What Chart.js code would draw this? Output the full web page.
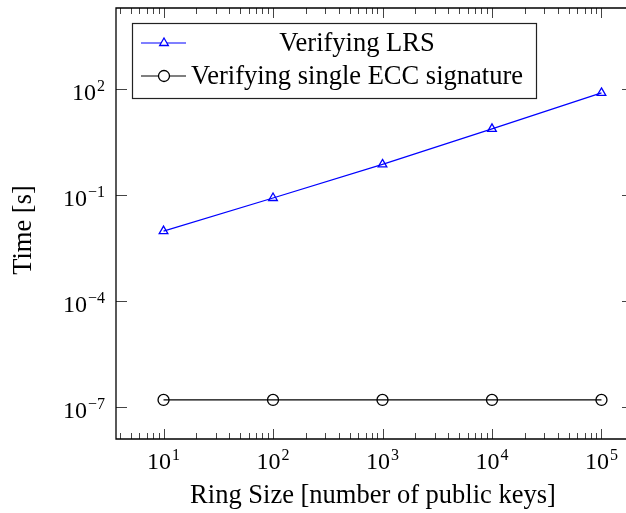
<!DOCTYPE html>
<html>
<head>
<meta charset="utf-8">
<script src="https://cdn.jsdelivr.net/npm/chart.js@4/dist/chart.umd.min.js"></script>
<style>
  html, body { margin: 0; padding: 0; background: #fff; }
  #wrap { width: 626px; height: 513px; }
</style>
</head>
<body>
<div id="wrap"><canvas id="chart" width="626" height="513"></canvas></div>
<script>
const ringSizes = [10, 100, 1000, 10000, 100000];
const lrsTimes = [0.0095, 0.082, 0.73, 7.4, 77];
const eccTimes = [1.58e-7, 1.58e-7, 1.58e-7, 1.58e-7, 1.58e-7];
const xTickExps = [1, 2, 3, 4, 5];
const yTickExps = [2, -1, -4, -7];
const seriesLabels = ['Verifying LRS', 'Verifying single ECC signature'];
const xTitle = 'Ring Size [number of public keys]';
const yTitle = 'Time [s]';

const SERIF = '"Liberation Serif", "DejaVu Serif", serif';

function drawPow(ctx, exp, x, y, align) {
  // 10^exp with a raised exponent, y is the baseline
  const base = '10';
  const e = String(exp).replace('-', '\u2212');
  ctx.font = '24px ' + SERIF;
  const wb = ctx.measureText(base).width;
  ctx.font = '16px ' + SERIF;
  const we = ctx.measureText(e).width;
  const w = wb + we + 1;
  let x0 = x;
  if (align === 'center') x0 = x - w / 2;
  else if (align === 'right') x0 = x - w;
  ctx.textAlign = 'left';
  ctx.textBaseline = 'alphabetic';
  ctx.fillStyle = '#000';
  ctx.font = '24px ' + SERIF;
  ctx.fillText(base, x0, y);
  ctx.font = '16px ' + SERIF;
  ctx.fillText(e, x0 + wb + 1, y - 9);
}

const axisDecor = {
  id: 'axisDecor',
  afterDatasetsDraw(chart) {
    const { ctx, chartArea: a, scales: { x, y } } = chart;
    ctx.save();
    // ticks
    ctx.strokeStyle = '#444';
    ctx.lineWidth = 1;
    ctx.beginPath();
    for (let d = 0; d <= 5; d++) {
      for (let k = 1; k <= 9; k++) {
        const v = k * Math.pow(10, d);
        if (v < x.min || v > x.max) continue;
        const px = Math.round(x.getPixelForValue(v)) + 0.5;
        const len = k === 1 ? 10 : 6;
        ctx.moveTo(px, a.bottom); ctx.lineTo(px, a.bottom - len);
        ctx.moveTo(px, a.top); ctx.lineTo(px, a.top + len);
      }
    }
    for (const ex of yTickExps) {
      const py = Math.round(y.getPixelForValue(Math.pow(10, ex))) + 0.5;
      ctx.moveTo(a.left, py); ctx.lineTo(a.left + 11, py);
      // right frame sits just past the picture edge, only the tick ends show
      ctx.moveTo(a.right, py); ctx.lineTo(a.right - 4, py);
    }
    ctx.stroke();
    // frame (left, top, bottom)
    ctx.strokeStyle = '#000';
    ctx.lineWidth = 1.3;
    ctx.beginPath();
    ctx.moveTo(a.right, a.top); ctx.lineTo(a.left, a.top);
    ctx.lineTo(a.left, a.bottom); ctx.lineTo(a.right, a.bottom);
    ctx.stroke();

    // tick labels
    for (const ex of xTickExps) {
      drawPow(ctx, ex, x.getPixelForValue(Math.pow(10, ex)), a.bottom + 30, 'center');
    }
    for (const ex of yTickExps) {
      drawPow(ctx, ex, a.left - 11, y.getPixelForValue(Math.pow(10, ex)) + 11, 'right');
    }

    // axis titles
    ctx.fillStyle = '#000';
    ctx.font = '26.5px ' + SERIF;
    ctx.textAlign = 'center';
    ctx.textBaseline = 'alphabetic';
    ctx.fillText(xTitle, 373, 503);
    ctx.save();
    ctx.translate(31, 230);
    ctx.rotate(-Math.PI / 2);
    ctx.fillText(yTitle, 0, 0);
    ctx.restore();

    // legend
    const lx = 132, ly = 23, lw = 404, lh = 75;
    ctx.fillStyle = '#fff';
    ctx.fillRect(lx, ly, lw, lh);
    ctx.strokeStyle = '#222';
    ctx.lineWidth = 1.2;
    ctx.strokeRect(lx + 0.5, ly + 0.5, lw, lh);
    const rows = [43, 76];
    chart.data.datasets.forEach((ds, i) => {
      const ry = rows[i];
      ctx.strokeStyle = ds.borderColor;
      ctx.lineWidth = ds.borderWidth;
      ctx.beginPath();
      ctx.moveTo(141, ry); ctx.lineTo(186, ry);
      ctx.stroke();
      ctx.fillStyle = '#fff';
      ctx.strokeStyle = ds.pointBorderColor;
      ctx.lineWidth = ds.pointBorderWidth;
      Chart.helpers.drawPoint(ctx, {
        pointStyle: ds.pointStyle,
        radius: ds.pointRadius,
        borderWidth: ds.pointBorderWidth,
        rotation: 0
      }, 164, ry);
      ctx.fillStyle = '#000';
      ctx.font = '26.5px ' + SERIF;
      ctx.textAlign = 'center';
      ctx.textBaseline = 'middle';
      ctx.fillText(ds.label, 357, ry + 1);
    });
    ctx.restore();
  }
};

new Chart(document.getElementById('chart'), {
  type: 'line',
  data: {
    datasets: [
      {
        label: seriesLabels[0],
        data: ringSizes.map((v, i) => ({ x: v, y: lrsTimes[i] })),
        borderColor: '#0000ff',
        backgroundColor: 'rgba(0,0,0,0)',
        borderWidth: 1.2,
        pointStyle: 'triangle',
        pointRadius: 5,
        pointBorderWidth: 1.3,
        pointBackgroundColor: 'rgba(0,0,0,0)',
        pointBorderColor: '#0000ff',
        tension: 0
      },
      {
        label: seriesLabels[1],
        data: ringSizes.map((v, i) => ({ x: v, y: eccTimes[i] })),
        borderColor: '#000000',
        backgroundColor: 'rgba(0,0,0,0)',
        borderWidth: 1.2,
        pointStyle: 'circle',
        pointRadius: 5.5,
        pointBorderWidth: 1.3,
        pointBackgroundColor: 'rgba(0,0,0,0)',
        pointBorderColor: '#000000',
        tension: 0
      }
    ]
  },
  options: {
    responsive: false,
    animation: false,
    events: [],
    layout: { autoPadding: false, padding: { left: 116, top: 8, right: 0, bottom: 74 } },
    plugins: { legend: { display: false }, tooltip: { enabled: false } },
    scales: {
      x: { type: 'logarithmic', min: 3.68, max: 1.675e5, display: false },
      y: { type: 'logarithmic', min: Math.pow(10, -7.906), max: Math.pow(10, 4.29), display: false }
    }
  },
  plugins: [axisDecor]
});
</script>
</body>
</html>
